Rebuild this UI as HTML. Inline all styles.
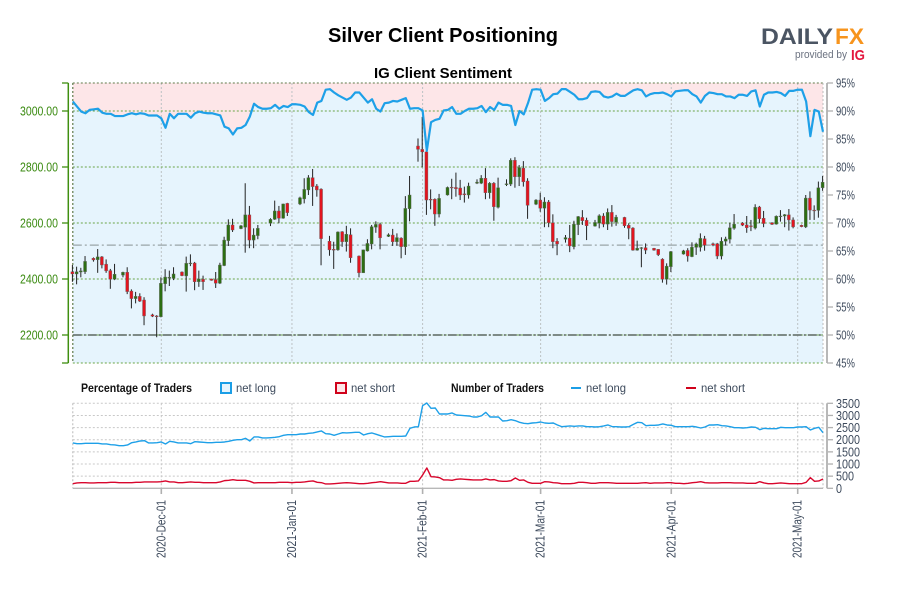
<!DOCTYPE html>
<html lang="en">
<head>
<meta charset="utf-8">
<title>Silver Client Positioning</title>
<style>
html,body{margin:0;padding:0;background:#fff;}
svg{display:block;font-family:"Liberation Sans",sans-serif;}
</style>
</head>
<body>
<svg id="chart" xmlns="http://www.w3.org/2000/svg" width="900" height="600" viewBox="0 0 900 600">
  <rect x="0" y="0" width="900" height="600" fill="#ffffff"/>
  <text x="443" y="42" text-anchor="middle" font-size="20" font-weight="bold" fill="#000" textLength="230" lengthAdjust="spacingAndGlyphs">Silver Client Positioning</text>
  <text x="443" y="78" text-anchor="middle" font-size="15" font-weight="bold" fill="#000" textLength="138" lengthAdjust="spacingAndGlyphs">IG Client Sentiment</text>

  <g>
    <text x="761" y="44" font-size="22" font-weight="bold" fill="#4b5563" textLength="72" lengthAdjust="spacingAndGlyphs">DAILY</text>
    <text x="835" y="44" font-size="22" font-weight="bold" fill="#f7941d" textLength="29" lengthAdjust="spacingAndGlyphs">FX</text>
    <text x="795" y="58" font-size="11" fill="#6b7280" textLength="52" lengthAdjust="spacingAndGlyphs">provided by</text>
    <text x="851" y="60" font-size="15" font-weight="bold" fill="#e3173e" textLength="14" lengthAdjust="spacingAndGlyphs">IG</text>
  </g>

  <g id="price-panel"></g>
  <g id="count-panel"></g>

  <g font-size="12">
    <text x="81" y="392" font-weight="bold" fill="#111" textLength="111" lengthAdjust="spacingAndGlyphs">Percentage of Traders</text>
    <rect x="221" y="383" width="10" height="10" fill="#e6f4fd" stroke="#1b9ee6" stroke-width="2"/>
    <text x="236" y="392" fill="#3d4a5c" textLength="40" lengthAdjust="spacingAndGlyphs">net long</text>
    <rect x="336" y="383" width="10" height="10" fill="#fde6e8" stroke="#d0021b" stroke-width="2"/>
    <text x="351" y="392" fill="#3d4a5c" textLength="44" lengthAdjust="spacingAndGlyphs">net short</text>
    <text x="451" y="392" font-weight="bold" fill="#111" textLength="93" lengthAdjust="spacingAndGlyphs">Number of Traders</text>
    <line x1="571" y1="388" x2="581" y2="388" stroke="#1b9ee6" stroke-width="2"/>
    <text x="586" y="392" fill="#3d4a5c" textLength="40" lengthAdjust="spacingAndGlyphs">net long</text>
    <line x1="686" y1="388" x2="696" y2="388" stroke="#d0021b" stroke-width="2"/>
    <text x="701" y="392" fill="#3d4a5c" textLength="44" lengthAdjust="spacingAndGlyphs">net short</text>
  </g>
</svg>
<script>
var dateTicks = ["2020-12-01","2021-01-01","2021-02-01","2021-03-01","2021-04-01","2021-05-01"];
var dateTickLabels = ["2020-Dec-01","2021-Jan-01","2021-Feb-01","2021-Mar-01","2021-Apr-01","2021-May-01"];
var priceTicks = [3100,3000,2800,2600,2400,2200,2100];
var priceTickLabels = ["","3000.00","2800.00","2600.00","2400.00","2200.00",""];
var percentTicks = [95,90,85,80,75,70,65,60,55,50,45];
var countTicks = [3500,3000,2500,2000,1500,1000,500,0];
var seriesStartDate = "2020-11-10";
var referencePrice = 2521;
var neutralPercent = 50;

var candleDates = ["2020-11-10","2020-11-11","2020-11-12","2020-11-13","2020-11-15","2020-11-16","2020-11-17","2020-11-18","2020-11-19","2020-11-20",
"2020-11-22","2020-11-23","2020-11-24","2020-11-25","2020-11-26","2020-11-27","2020-11-29","2020-11-30","2020-12-01","2020-12-02",
"2020-12-03","2020-12-04","2020-12-06","2020-12-07","2020-12-08","2020-12-09","2020-12-10","2020-12-11","2020-12-13","2020-12-14",
"2020-12-15","2020-12-16","2020-12-17","2020-12-18","2020-12-20","2020-12-21","2020-12-22","2020-12-23","2020-12-24","2020-12-27",
"2020-12-28","2020-12-29","2020-12-30","2020-12-31","2021-01-03","2021-01-04","2021-01-05","2021-01-06","2021-01-07","2021-01-08",
"2021-01-10","2021-01-11","2021-01-12","2021-01-13","2021-01-14","2021-01-15","2021-01-17","2021-01-18","2021-01-19","2021-01-20",
"2021-01-21","2021-01-22","2021-01-24","2021-01-25","2021-01-26","2021-01-27","2021-01-28","2021-01-29","2021-01-31","2021-02-01",
"2021-02-02","2021-02-03","2021-02-04","2021-02-05","2021-02-07","2021-02-08","2021-02-09","2021-02-10","2021-02-11","2021-02-12",
"2021-02-14","2021-02-15","2021-02-16","2021-02-17","2021-02-18","2021-02-19","2021-02-21","2021-02-22","2021-02-23","2021-02-24",
"2021-02-25","2021-02-26","2021-02-28","2021-03-01","2021-03-02","2021-03-03","2021-03-04","2021-03-05","2021-03-07","2021-03-08",
"2021-03-09","2021-03-10","2021-03-11","2021-03-12","2021-03-14","2021-03-15","2021-03-16","2021-03-17","2021-03-18","2021-03-19",
"2021-03-21","2021-03-22","2021-03-23","2021-03-24","2021-03-25","2021-03-26","2021-03-28","2021-03-29","2021-03-30","2021-03-31",
"2021-04-01","2021-04-04","2021-04-05","2021-04-06","2021-04-07","2021-04-08","2021-04-09","2021-04-11","2021-04-12","2021-04-13",
"2021-04-14","2021-04-15","2021-04-16","2021-04-18","2021-04-19","2021-04-20","2021-04-21","2021-04-22","2021-04-23","2021-04-25",
"2021-04-26","2021-04-27","2021-04-28","2021-04-29","2021-04-30","2021-05-02","2021-05-03","2021-05-04","2021-05-05","2021-05-06",
"2021-05-07"];

var opens = [2426,2418,2425,2426,2474,2469,2479,2453,2430,2399,
2414,2424,2357,2330,2338,2325,2272,2268,2265,2383,
2404,2402,2425,2411,2455,2457,2390,2399,2400,2398,
2385,2448,2537,2593,2580,2585,2629,2539,2555,2599,
2613,2643,2617,2670,2668,2686,2718,2762,2732,2721,
2535,2506,2504,2569,2533,2558,2482,2422,2500,2525,
2585,2595,2552,2557,2533,2546,2515,2651,2875,2863,
2854,2685,2685,2632,2700,2728,2727,2725,2704,2700,
2742,2742,2760,2708,2742,2656,2737,2739,2824,2765,
2796,2750,2667,2682,2653,2675,2601,2535,2542,2546,
2515,2594,2620,2610,2589,2599,2625,2596,2638,2603,
2620,2592,2582,2503,2511,2512,2510,2506,2471,2399,
2444,2489,2502,2480,2513,2513,2544,2526,2526,2482,
2535,2542,2581,2600,2593,2590,2582,2657,2617,2601,
2596,2624,2625,2629,2611,2592,2586,2689,2646,2645,
2726];
var highs = [2450,2444,2440,2482,2477,2507,2482,2470,2436,2454,
2426,2442,2363,2354,2349,2335,2276,2271,2406,2435,
2430,2442,2427,2480,2488,2461,2430,2412,2401,2425,
2458,2551,2613,2615,2593,2742,2661,2581,2593,2617,
2680,2661,2669,2672,2694,2760,2771,2793,2739,2724,
2554,2533,2570,2571,2590,2581,2484,2505,2542,2593,
2606,2601,2563,2579,2563,2549,2696,2768,2902,2979,
2861,2720,2688,2704,2730,2758,2780,2754,2730,2744,
2756,2771,2796,2746,2746,2762,2756,2831,2835,2807,
2821,2760,2685,2708,2692,2682,2631,2546,2557,2593,
2608,2625,2646,2619,2611,2631,2635,2652,2664,2629,
2622,2599,2585,2537,2514,2527,2511,2507,2474,2456,
2500,2504,2510,2531,2530,2563,2554,2530,2529,2549,
2551,2601,2632,2603,2625,2611,2667,2661,2643,2603,
2627,2646,2632,2650,2620,2594,2700,2713,2663,2748,
2768];
var lows = [2390,2381,2406,2418,2462,2422,2438,2422,2365,2396,
2406,2346,2295,2313,2318,2235,2264,2192,2263,2356,
2375,2396,2410,2355,2446,2360,2372,2361,2394,2368,
2382,2446,2518,2568,2578,2494,2510,2510,2542,2589,
2611,2599,2615,2625,2664,2670,2700,2661,2694,2449,
2483,2436,2501,2515,2498,2458,2406,2422,2498,2506,
2565,2506,2550,2518,2519,2474,2486,2606,2819,2799,
2629,2649,2590,2620,2698,2685,2694,2682,2673,2687,
2739,2739,2685,2687,2608,2652,2732,2732,2726,2732,
2730,2615,2664,2640,2585,2585,2510,2485,2530,2496,
2506,2557,2593,2539,2587,2581,2585,2575,2587,2590,
2583,2542,2501,2501,2442,2489,2501,2482,2387,2380,
2425,2487,2462,2478,2486,2498,2501,2517,2471,2470,
2520,2527,2576,2589,2565,2571,2577,2599,2585,2593,
2594,2605,2585,2573,2581,2585,2582,2611,2611,2619,
2715];
var closes = [2418,2426,2429,2463,2468,2479,2450,2429,2399,2417,
2424,2355,2330,2338,2321,2268,2267,2267,2385,2407,
2406,2418,2412,2456,2457,2390,2400,2390,2395,2385,
2450,2539,2593,2575,2590,2629,2539,2557,2581,2613,
2643,2617,2668,2637,2690,2720,2762,2730,2718,2544,
2504,2504,2568,2533,2560,2476,2422,2504,2527,2587,
2595,2547,2558,2533,2548,2515,2652,2700,2863,2854,
2682,2682,2632,2688,2727,2726,2722,2700,2701,2732,
2746,2760,2708,2742,2658,2726,2740,2824,2765,2798,
2747,2663,2682,2653,2675,2601,2533,2525,2548,2518,
2596,2623,2608,2590,2602,2626,2596,2638,2605,2621,
2590,2581,2503,2510,2512,2503,2503,2487,2399,2446,
2498,2501,2482,2514,2525,2545,2521,2521,2482,2535,
2543,2583,2596,2592,2583,2589,2656,2615,2598,2595,
2624,2625,2630,2611,2586,2587,2689,2646,2645,2726,
2746];

var netLongPercent = [91.7,90.8,89.9,89.6,90.2,90.3,90.4,89.7,89.5,89.5,89.1,89.1,89.1,89.4,89.6,89.4,89.6,89.5,89.2,89.2,89.2,
88.7,87.0,89.5,88.7,89.5,89.5,89.5,88.8,89.6,89.9,89.7,89.6,89.6,89.4,89.2,87.2,86.9,85.8,86.9,87.0,87.5,89.0,91.3,90.7,
90.4,90.4,90.5,91.1,90.4,90.9,90.7,91.2,91.2,91.1,90.8,89.8,89.3,91.5,91.8,93.8,93.9,93.3,92.8,92.4,92.0,92.4,93.3,93.3,92.4,91.5,92.1,90.4,89.9,91.4,91.5,91.8,91.7,92.0,92.3,90.4,90.5,90.5,90.1,82.9,88.0,88.4,88.6,
90.1,90.2,90.7,89.5,89.5,90.0,90.4,90.4,90.5,90.9,89.8,90.7,90.2,91.5,91.1,91.1,90.9,87.5,90.0,89.4,91.4,93.8,93.9,93.8,91.8,92.3,93.0,93.1,93.9,93.9,93.4,92.9,92.1,92.1,92.3,93.4,93.5,93.4,92.6,92.4,92.6,93.1,92.7,92.7,93.2,
93.7,93.9,93.7,92.6,93.0,93.2,93.2,93.3,93.0,92.6,93.5,93.6,93.7,93.7,93.0,92.6,91.5,92.7,93.3,93.2,93.0,93.0,92.6,92.6,92.3,92.9,92.9,92.7,93.5,93.7,90.8,92.9,93.3,93.3,93.4,93.2,92.7,93.6,93.6,93.8,93.8,91.7,85.5,90.2,89.9,86.3];

var netLongTraders = [1866,1838,1838,1852,1852,1852,1852,1825,1825,1797,
1784,1756,1756,1784,1880,1907,1948,1962,1866,1866,
1880,1907,1825,1935,1907,1866,1866,1866,1838,1921,
1907,1893,1880,1880,1893,1893,1907,1935,1976,2003,
2003,2058,1948,2113,2113,2072,2072,2085,2099,2127,
2181,2209,2209,2209,2236,2236,2264,2278,2319,2360,
2250,2236,2181,2236,2291,2278,2291,2305,2305,
2195,2250,2278,2223,2168,2113,2127,2140,2140,2140,
2154,2470,2524,2538,3403,3512,3293,3307,3060,3060,
3060,3101,3018,3005,2991,2977,2936,2936,2991,3128,
2936,2936,2936,2771,2785,2826,2785,2717,2675,2662,
2689,2703,2730,2689,2675,2689,2607,2538,2552,2566,
2552,2566,2566,2538,2538,2524,2538,2566,2607,2538,
2538,2524,2524,2538,2634,2717,2703,2579,2593,
2593,2607,2648,2607,2593,2538,2538,2538,2538,2552,
2524,2483,2524,2607,2607,2620,2579,2566,2538,2497,
2497,2483,2497,2524,2511,2415,2470,2456,2456,2456,
2511,2497,2497,2497,2524,2524,2538,2401,2470,2511,
2291];

var netShortTraders = [192,220,233,233,220,220,233,233,233,247,247,233,233,233,233,247,247,261,261,261,261,
274,302,261,261,233,233,247,261,247,247,233,233,233,233,261,316,329,357,329,329,
329,288,220,233,233,233,233,233,247,247,247,233,247,247,261,288,302,247,233,178,
178,192,206,220,233,220,206,192,
192,206,233,247,274,247,220,220,220,206,206,288,288,302,549,837,480,466,439,343,
343,329,370,384,370,357,343,343,343,384,343,357,302,288,288,316,425,329,343,247,
206,206,206,274,261,233,220,192,192,192,206,247,247,233,206,206,233,233,233,220,
206,206,206,206,206,206,220,233,206,
220,220,220,233,233,206,206,192,206,233,247,274,233,220,220,220,233,233,233,220,
220,220,206,206,206,274,220,192,192,206,220,206,192,192,192,192,247,439,288,302,384];

var SVGNS = "http://www.w3.org/2000/svg";
var DAY_MS = 86400000;
var originDate = Date.UTC(2020, 11, 1);

function dayOffset(dateString) {
  var p = dateString.split("-");
  return (Date.UTC(+p[0], +p[1] - 1, +p[2]) - originDate) / DAY_MS;
}
function xFromDay(d) { return 161.3 + 4.2146 * d; }
function xFromDate(dateString) { return xFromDay(dayOffset(dateString)); }
function seriesX(i) { return xFromDay(dayOffset(seriesStartDate) + i); }
function yPrice(v) { return 111 + (3000 - v) * 0.28; }
function yPercent(v) { return 111 + (90 - v) * 5.6; }
function yCount(v) { return 488.3 - v * (85 / 3500); }

function mk(parent, tag, attrs, text) {
  var el = document.createElementNS(SVGNS, tag);
  for (var k in attrs) { el.setAttribute(k, attrs[k]); }
  if (text !== undefined) { el.textContent = text; }
  parent.appendChild(el);
  return el;
}

var pricePanel = document.getElementById("price-panel");
var countPanel = document.getElementById("count-panel");
var plotLeft = 72.8, plotRight = 823, plotTop = 83, plotBottom = 363;
var el, i;

/* price panel fills */
el = mk(pricePanel, "rect", {x: plotLeft, y: plotTop, width: plotRight - plotLeft, height: plotBottom - plotTop, fill: "#fde6e8"});



var areaPoints = [plotLeft + "," + plotBottom];
for (i = 0; i < netLongPercent.length; i++) {
  areaPoints.push(seriesX(i).toFixed(2) + "," + yPercent(netLongPercent[i]).toFixed(2));
}
areaPoints.push(seriesX(netLongPercent.length - 1).toFixed(2) + "," + plotBottom);
el = mk(pricePanel, "polygon", {points: areaPoints.join(" "), fill: "#e6f4fd"});



/* vertical date grid */
dateTicks.forEach(function (t) {
  var x = xFromDate(t);
  var g = mk(pricePanel, "line", {x1: x, x2: x, y1: plotTop, y2: plotBottom, stroke: "#bcc2c4", "stroke-width": 1, "stroke-dasharray": "2 2"});
  
  
  var g2 = mk(countPanel, "line", {x1: x, x2: x, y1: 403.3, y2: 488.3, stroke: "#c4c4c4", "stroke-width": 1, "stroke-dasharray": "2 2"});
  
  
});

/* horizontal price grid */
priceTicks.forEach(function (t, idx) {
  var y = yPrice(t);
  var g = mk(pricePanel, "line", {x1: plotLeft, x2: plotRight, y1: y, y2: y, stroke: idx === 0 ? "#5f7a4a" : "#6aa548", "stroke-width": 1, "stroke-dasharray": "2 2"});
  
  
  var tick = mk(pricePanel, "line", {x1: 62, x2: 68.3, y1: y, y2: y, stroke: "#3f8f10", "stroke-width": 1.3});
  
  
  if (priceTickLabels[idx]) {
    var lab = mk(pricePanel, "text", {x: 20, y: y + 4.5, "font-size": 13, fill: "#3a8a10", textLength: 38, lengthAdjust: "spacingAndGlyphs"}, priceTickLabels[idx]);
    
    
  }
});

/* plot side borders */
el = mk(pricePanel, "line", {x1: plotLeft, x2: plotLeft, y1: plotTop, y2: plotBottom, stroke: "#5f7a4a", "stroke-width": 1.2, "stroke-dasharray": "2 2"});


el = mk(pricePanel, "line", {x1: plotRight, x2: plotRight, y1: plotTop, y2: plotBottom, stroke: "#bcbcbc", "stroke-width": 1, "stroke-dasharray": "2 2"});



/* reference lines */
el = mk(pricePanel, "line", {x1: plotLeft, x2: plotRight, y1: yPrice(referencePrice), y2: yPrice(referencePrice), stroke: "#9aa5a8", "stroke-width": 1.3, "stroke-dasharray": "9 3 2 3"});


el = mk(pricePanel, "line", {x1: plotLeft, x2: plotRight, y1: yPercent(neutralPercent), y2: yPercent(neutralPercent), stroke: "#5c6660", "stroke-width": 1.6, "stroke-dasharray": "9 2 2 2"});



/* candles */
for (i = 0; i < candleDates.length; i++) {
  var candleX = xFromDate(candleDates[i]) - 0.4;
  var isUp = closes[i] >= opens[i];
  var wick = mk(pricePanel, "line", {x1: candleX, x2: candleX, y1: yPrice(highs[i]), y2: yPrice(lows[i]), stroke: "#222", "stroke-width": 1});
  
  
  var bodyTop = yPrice(Math.max(opens[i], closes[i]));
  var bodyBottom = yPrice(Math.min(opens[i], closes[i]));
  var candleBody = mk(pricePanel, "rect", {x: candleX - 1.5, y: bodyTop, width: 3, height: Math.max(bodyBottom - bodyTop, 0.8), fill: isUp ? "#2c6e12" : "#e2141f", stroke: "#666", "stroke-width": 0.4});
  
  
}

function linePath(values, yFn) {
  var pts = [];
  for (var j = 0; j < values.length; j++) {
    pts.push((j ? "L" : "M") + seriesX(j).toFixed(2) + " " + yFn(values[j]).toFixed(2));
  }
  return pts.join(" ");
}

/* sentiment line */
el = mk(pricePanel, "path", {d: linePath(netLongPercent, yPercent), fill: "none", stroke: "#1ea0e8", "stroke-width": 2.2, "stroke-linejoin": "round"});



/* axes for price panel */
el = mk(pricePanel, "line", {x1: 68.3, x2: 68.3, y1: plotTop, y2: plotBottom, stroke: "#3f8f10", "stroke-width": 1.5});


el = mk(pricePanel, "line", {x1: 827, x2: 827, y1: plotTop, y2: plotBottom, stroke: "#b8b8b8", "stroke-width": 2});


percentTicks.forEach(function (t) {
  var y = yPercent(t);
  var tick = mk(pricePanel, "line", {x1: 827, x2: 833, y1: y, y2: y, stroke: "#b0b0b0", "stroke-width": 1.3});
  
  
  var lab = mk(pricePanel, "text", {x: 836, y: y + 4.5, "font-size": 13, fill: "#3d4a5c", textLength: 19, lengthAdjust: "spacingAndGlyphs"}, t + "%");
  
  
});

/* count panel */
countTicks.forEach(function (t) {
  var y = yCount(t);
  var g = mk(countPanel, "line", {x1: plotLeft, x2: plotRight, y1: y, y2: y, stroke: t === 0 ? "#b8b8b8" : "#c8c8c8", "stroke-width": t === 0 ? 1.4 : 1, "stroke-dasharray": t === 0 ? "none" : "2 2"});
  
  
  var tick = mk(countPanel, "line", {x1: 827, x2: 833, y1: y, y2: y, stroke: "#b0b0b0", "stroke-width": 1.3});
  
  
  var s = String(t);
  var lab = mk(countPanel, "text", {x: 836, y: y + 4.5, "font-size": 13, fill: "#3d4a5c", textLength: s.length * 6, lengthAdjust: "spacingAndGlyphs"}, s);
  
  
});
el = mk(countPanel, "line", {x1: plotLeft, x2: plotLeft, y1: 403.3, y2: 488.3, stroke: "#b8b8b8", "stroke-width": 1, "stroke-dasharray": "2 2"});


el = mk(countPanel, "line", {x1: plotRight, x2: plotRight, y1: 403.3, y2: 488.3, stroke: "#bcbcbc", "stroke-width": 1, "stroke-dasharray": "2 2"});


el = mk(countPanel, "line", {x1: 827, x2: 827, y1: 403.3, y2: 488.3, stroke: "#b8b8b8", "stroke-width": 2});



el = mk(countPanel, "path", {d: linePath(netLongTraders, yCount), fill: "none", stroke: "#1ea0e8", "stroke-width": 1.4, "stroke-linejoin": "round"});


el = mk(countPanel, "path", {d: linePath(netShortTraders, yCount), fill: "none", stroke: "#d8062c", "stroke-width": 1.4, "stroke-linejoin": "round"});



/* date axis */
dateTicks.forEach(function (t, idx) {
  var x = xFromDate(t);
  var tick = mk(countPanel, "line", {x1: x, x2: x, y1: 488.3, y2: 494, stroke: "#b0b0b0", "stroke-width": 1.6});
  
  
  var lab = mk(countPanel, "text", {x: x + 4, y: 500, "font-size": 13, fill: "#3d4a5c", "text-anchor": "end", transform: "rotate(-90 " + (x + 4) + " 500)", textLength: 58, lengthAdjust: "spacingAndGlyphs"}, dateTickLabels[idx]);
  
  
});
</script>
</body>
</html>
